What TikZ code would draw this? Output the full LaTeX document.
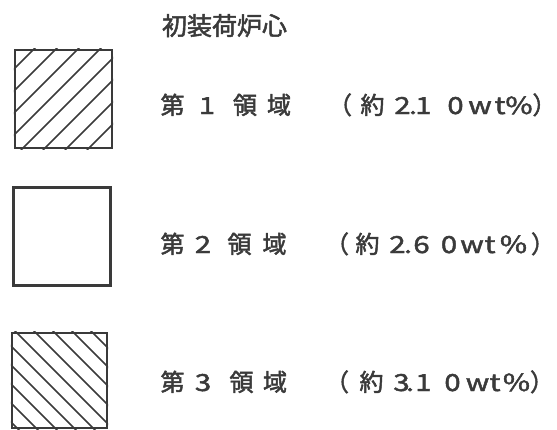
\documentclass[tikz,border=0pt]{standalone}
\usepackage{fontspec}
\setmainfont{Noto Sans CJK JP}
\newfontfamily\jpfont[FakeBold=2]{Noto Sans CJK JP}
\newfontfamily\ocrfont[FakeBold=2,FakeStretch=1.25]{Noto Sans CJK JP}
\definecolor{ink}{HTML}{3A3A3A}
\begin{document}
\begin{tikzpicture}[x=1pt,y=-1pt,
  txt/.style={anchor=base, inner sep=0pt, text=ink, font=\jpfont\fontsize{24}{24}\selectfont},
  ttl/.style={anchor=base, inner sep=0pt, text=ink, font=\jpfont\fontsize{25}{25}\selectfont},
  lat/.style={anchor=base, inner sep=0pt, text=ink, font=\ocrfont\fontsize{23.5}{24}\selectfont},
  swatch/.style={draw=ink, line width=2.2pt, minimum width=97pt, minimum height=98pt, inner sep=0pt},
  hatch/.style={draw=ink, line width=1.6pt}]
\useasboundingbox (0,0) rectangle (557,429);
% title
\node[ttl] (title) at (224.5,35) {初装荷炉心};
% swatches
\node[swatch] (b1) at (63.5,99) {};
\node[swatch] (b2) at (62,236.5) {};
\node[swatch, minimum width=95pt, minimum height=95pt] (b3) at (59.5,380.5) {};
\begin{scope}
  \clip (b1.north west) rectangle (b1.south east);
  \foreach \c in {83,105,...,237} \draw[hatch] (\c-150,150) -- (\c-40,40);
\end{scope}
\begin{scope}
  \clip (b3.north west) rectangle (b3.south east);
  \foreach \c in {-240,-259,...,-411} \draw[hatch] (\c+440,440) -- (\c+320,320);
\end{scope}
% row 1
\foreach \x/\t [count=\i] in {172.5/第, 245/領, 279/域, 340/（, 372.5/約, 544.5/）}
  \node[txt] (r1c\i) at (\x,114) {\t};
\foreach \x/\t [count=\i] in {207/1, 402.5/2, 413/., 423.5/1, 455.5/0, 480/w, 500/t, 519/\%}
  \node[lat] (r1l\i) at (\x,114) {\t};
% row 2
\foreach \x/\t [count=\i] in {172.5/第, 239.5/領, 274.5/域, 337/（, 367.5/約, 543/）}
  \node[txt] (r2c\i) at (\x,253) {\t};
\foreach \x/\t [count=\i] in {203/2, 397.5/2, 408/., 421.5/6, 449/0, 472/w, 490/t, 513.5/\%}
  \node[lat] (r2l\i) at (\x,253) {\t};
% row 3
\foreach \x/\t [count=\i] in {172.5/第, 241.5/領, 275/域, 337/（, 371.5/約, 542/）}
  \node[txt] (r3c\i) at (\x,391) {\t};
\foreach \x/\t [count=\i] in {203/3, 401.5/3, 410/., 423.5/1, 452.5/0, 477.5/w, 495/t, 516.5/\%}
  \node[lat] (r3l\i) at (\x,391) {\t};
\end{tikzpicture}
\end{document}
